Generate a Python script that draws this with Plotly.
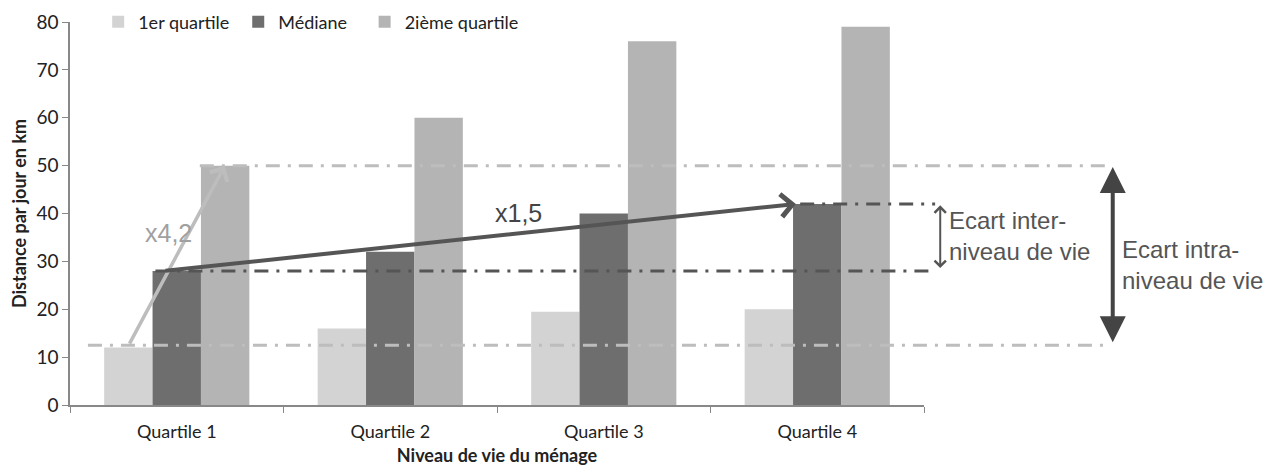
import plotly.graph_objects as go

categories = ["Quartile 1", "Quartile 2", "Quartile 3", "Quartile 4"]
series_names = ["1er quartile", "Médiane", "2ième quartile"]
q1_values = [12, 16, 19.5, 20]
median_values = [28, 32, 40, 42]
q3_values = [50, 60, 76, 79]
y_ticks = [0, 10, 20, 30, 40, 50, 60, 70, 80]

colors = ["#d3d3d3", "#6e6e6e", "#b4b4b4"]
legend_ids = ["legend", "legend2", "legend3"]
legend_x = [0.033, 0.197, 0.345]
FONT = "Lato"
ANN_FONT = "Liberation Sans"

fig = go.Figure()
for name, vals, col, lg in zip(series_names, [q1_values, median_values, q3_values], colors, legend_ids):
    fig.add_trace(go.Bar(name=name, x=categories, y=vals, legend=lg,
                         marker=dict(color=col, line=dict(width=0))))

legend_style = dict(orientation="h", y=1.0, xanchor="left", yanchor="middle",
                    font=dict(family=FONT, size=18, color="#222"), bgcolor="rgba(0,0,0,0)")

fig.update_layout(
    width=1275, height=472,
    margin=dict(l=62, r=359, t=14, b=75, autoexpand=False),
    paper_bgcolor="white", plot_bgcolor="white",
    barmode="group", bargap=0.32, bargroupgap=0,
    font=dict(family=FONT, size=18, color="#222"),
    showlegend=True,
    xaxis=dict(range=[-0.5, 3.5], showline=True, linecolor="#888", linewidth=1.5,
               ticks="outside", tickson="boundaries", ticklen=6, tickcolor="#888",
               showgrid=False, tickfont=dict(size=18, color="#222"), ticklabelstandoff=10,
               title=dict(text="<b>Niveau de vie du ménage</b>", font=dict(size=18, color="#222"), standoff=8)),
    yaxis=dict(range=[0, 80], tickvals=y_ticks, showline=True, linecolor="#888", linewidth=1.5,
               ticks="outside", ticklen=6, tickcolor="#888", showgrid=False, zeroline=False,
               tickfont=dict(size=19, color="#222"),
               title=dict(text="<b>Distance par jour en km</b>", font=dict(size=18, color="#222"), standoff=6)),
)
for lg, lx in zip(legend_ids, legend_x):
    fig.update_layout({lg: dict(legend_style, x=lx)})

light = "#bdbdbd"
dark = "#555555"
dash = "14px,8px,3px,8px"
# reference lines (y values from data)
lines = [
    (0.021, 1.218, q1_values[0] + 0.5, light),
    (0.152, 1.218, q3_values[0], light),
    (0.100, 1.013, median_values[0], dark),
    (0.855, 1.013, median_values[3], dark),
]
for x0, x1, yv, c in lines:
    fig.add_shape(type="line", xref="paper", yref="y", x0=x0, x1=x1, y0=yv, y1=yv,
                  line=dict(color=c, width=3, dash=dash), layer="above")

# arrows
bw = 0.225
fig.add_annotation(x=bw, y=q3_values[0], ax=-bw, ay=q1_values[0] + 0.5, xref="x", yref="y",
                   axref="x", ayref="y", showarrow=True, arrowhead=4, arrowsize=1.1,
                   arrowwidth=3.5, arrowcolor=light, standoff=0, text="")
fig.add_annotation(x=2.9, y=median_values[3], ax=-0.06, ay=median_values[0], xref="x", yref="y",
                   axref="x", ayref="y", showarrow=True, arrowhead=4, arrowsize=1.1,
                   arrowwidth=4, arrowcolor=dark, standoff=0, text="")
fig.add_annotation(x=-0.04, y=36, xref="x", yref="y", text="x4,2", showarrow=False,
                   font=dict(family=ANN_FONT, size=25, color="#a0a0a0"))
fig.add_annotation(x=1.6, y=40.2, xref="x", yref="y", text="x1,5", showarrow=False,
                   font=dict(family=ANN_FONT, size=25, color="#444"))

# inter arrow
fig.add_annotation(x=1.019, y=median_values[3] - 0.3, xref="paper", yref="y", ax=0, ay=median_values[0] + 0.3,
                   axref="pixel", ayref="y", showarrow=True, arrowhead=4, arrowside="end+start",
                   arrowsize=1.1, arrowwidth=2, arrowcolor="#555", standoff=0, startstandoff=0, text="")
fig.add_annotation(x=1.027, y=35.3, xref="paper", yref="y", xanchor="left", yanchor="middle",
                   text="Ecart inter-<br>niveau de vie", showarrow=False, align="left",
                   font=dict(family=ANN_FONT, size=24, color="#555"))
# intra arrow
fig.add_annotation(x=1.221, y=q3_values[0] - 0.3, xref="paper", yref="y", ax=0, ay=q1_values[0] + 0.8,
                   axref="pixel", ayref="y", showarrow=True, arrowhead=2, arrowside="end+start",
                   arrowsize=1.3, arrowwidth=4, arrowcolor="#444", standoff=0, startstandoff=0, text="")
fig.add_annotation(x=1.229, y=29.2, xref="paper", yref="y", xanchor="left", yanchor="middle",
                   text="Ecart intra-<br>niveau de vie", showarrow=False, align="left",
                   font=dict(family=ANN_FONT, size=24, color="#555"))

fig.write_html("out.html")
